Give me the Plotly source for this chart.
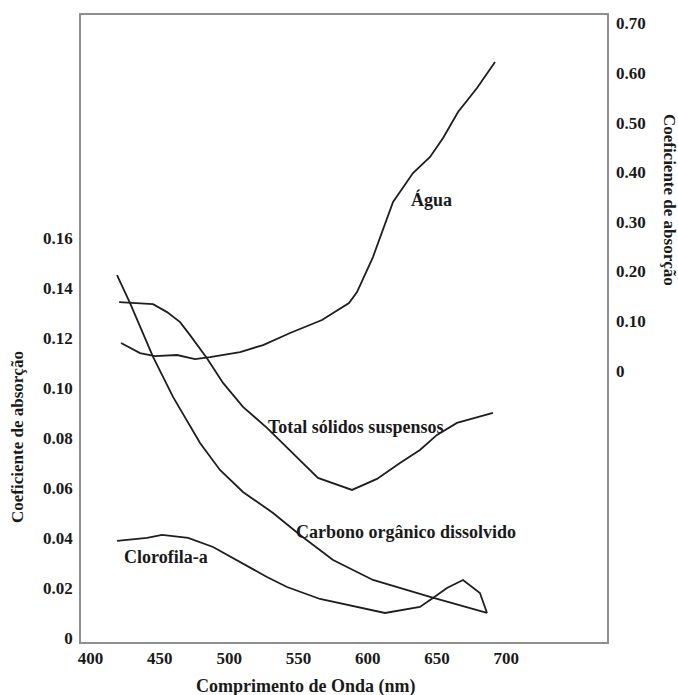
import plotly.graph_objects as go

# Dados (comprimento de onda em nm)
carbono_nm = [419.1, 428.5, 445.1, 459.5, 479.0, 493.4, 510.0, 531.7, 551.2, 575.0, 603.8, 645.0, 686.1]
carbono_val = [0.1453, 0.1341, 0.1126, 0.0966, 0.0782, 0.0674, 0.0586, 0.0502, 0.0414, 0.0314, 0.0234, 0.0166, 0.0102]

tss_nm = [420.6, 445.1, 455.2, 464.6, 471.8, 484.0, 495.6, 510.0, 527.3, 549.0, 564.1, 588.7, 606.7, 623.3, 637.7, 650.0, 664.4, 690.4]
tss_val = [0.1345, 0.1337, 0.1305, 0.1265, 0.1213, 0.1121, 0.1022, 0.0926, 0.0842, 0.0726, 0.0642, 0.0594, 0.0638, 0.0702, 0.0754, 0.0814, 0.0862, 0.0902]

clorofila_nm = [419.1, 440.8, 451.6, 470.4, 488.4, 507.9, 527.3, 541.8, 565.6, 612.5, 637.7, 647.1, 657.2, 668.8, 681.0, 686.1]
clorofila_val = [0.0390, 0.0402, 0.0414, 0.0402, 0.0366, 0.0306, 0.0246, 0.0206, 0.0158, 0.0102, 0.0126, 0.0162, 0.0202, 0.0234, 0.0182, 0.0102]

agua_nm = [422.0, 435.7, 446.5, 462.4, 475.4, 486.2, 507.9, 524.5, 544.0, 567.0, 586.5, 592.3, 603.8, 618.3, 632.7, 645.0, 654.4, 665.2, 678.9, 691.9]
agua_val = [0.0556, 0.0355, 0.0294, 0.0315, 0.0234, 0.0274, 0.0375, 0.0516, 0.0758, 0.1020, 0.1363, 0.1585, 0.2290, 0.3399, 0.3984, 0.4306, 0.4690, 0.5214, 0.5698, 0.6222]

x_ticks = [400, 450, 500, 550, 600, 650, 700]
x_ticktext = ["400", "450", "500", "550", "600", "650", "700"]
left_ticks = [0, 0.02, 0.04, 0.06, 0.08, 0.10, 0.12, 0.14, 0.16]
left_ticktext = ["0", "0.02", "0.04", "0.06", "0.08", "0.10", "0.12", "0.14", "0.16"]
right_ticks = [0, 0.1, 0.2, 0.3, 0.4, 0.5, 0.6, 0.7]
right_ticktext = ["0", "0.10", "0.20", "0.30", "0.40", "0.50", "0.60", "0.70"]

FONT = "Liberation Serif, Times New Roman, serif"
LINE = dict(color="#1e1e1e", width=1.8)


def bold(items):
    return ["<b>" + t + "</b>" for t in items]


fig = go.Figure()
fig.add_trace(go.Scatter(x=carbono_nm, y=carbono_val, mode="lines", line=LINE, name="Carbono orgânico dissolvido"))
fig.add_trace(go.Scatter(x=tss_nm, y=tss_val, mode="lines", line=LINE, name="Total sólidos suspensos"))
fig.add_trace(go.Scatter(x=clorofila_nm, y=clorofila_val, mode="lines", line=LINE, name="Clorofila-a"))
fig.add_trace(go.Scatter(x=agua_nm, y=agua_val, mode="lines", line=LINE, name="Água", yaxis="y2"))

tickfont = dict(family=FONT, size=17, color="#1a1a1a")
fig.update_layout(
    width=678, height=695,
    margin=dict(l=81, r=71, t=15, b=53),
    paper_bgcolor="white", plot_bgcolor="white",
    showlegend=False,
    font=dict(family=FONT, color="#1a1a1a"),
    xaxis=dict(range=[393.1, 772.7], tickvals=x_ticks, ticktext=bold(x_ticktext),
               showgrid=False, zeroline=False,
               showline=True, mirror=True, linecolor="#8f8f8f", linewidth=1.5,
               ticks="", tickfont=tickfont),
    yaxis=dict(range=[-0.0014, 0.2493], tickvals=left_ticks, ticktext=bold(left_ticktext),
               showgrid=False, zeroline=False, showline=True, mirror=True,
               linecolor="#8f8f8f", linewidth=1.5, ticks="", tickfont=tickfont,
               ticklabelstandoff=3),
    yaxis2=dict(range=[-0.547, 0.7169], tickvals=right_ticks, ticktext=bold(right_ticktext),
                overlaying="y", side="right", showgrid=False, zeroline=False,
                showline=False, ticks="", tickfont=tickfont, ticklabelstandoff=8),
)

ann_font = dict(family=FONT, size=18, color="#1a1a1a")
labels = [
    ("<b>Água</b>", 0.667, 0.705),
    ("<b>Total sólidos suspensos</b>", 0.521, 0.343),
    ("<b>Carbono orgânico dissolvido</b>", 0.618, 0.1754),
    ("<b>Clorofila-a</b>", 0.1616, 0.1356),
]
for txt, xp, yp in labels:
    fig.add_annotation(text=txt, x=xp, y=yp, xref="paper", yref="paper",
                       showarrow=False, font=ann_font, xanchor="center", yanchor="middle")

fig.add_annotation(text="<b>Comprimento de Onda (nm)</b>", x=0.428, y=-0.0702,
                   xref="paper", yref="paper", showarrow=False, font=ann_font,
                   xanchor="center", yanchor="middle")
fig.add_annotation(text="<b>Coeficiente de absorção</b>", x=-0.1198, y=0.327,
                   xref="paper", yref="paper", showarrow=False, textangle=-90,
                   font=dict(family=FONT, size=17, color="#1a1a1a"),
                   xanchor="center", yanchor="middle")
fig.add_annotation(text="<b>Coeficiente de absorção</b>", x=1.118, y=0.705,
                   xref="paper", yref="paper", showarrow=False, textangle=90,
                   font=dict(family=FONT, size=17, color="#1a1a1a"),
                   xanchor="center", yanchor="middle")

fig.write_html("out.html")
